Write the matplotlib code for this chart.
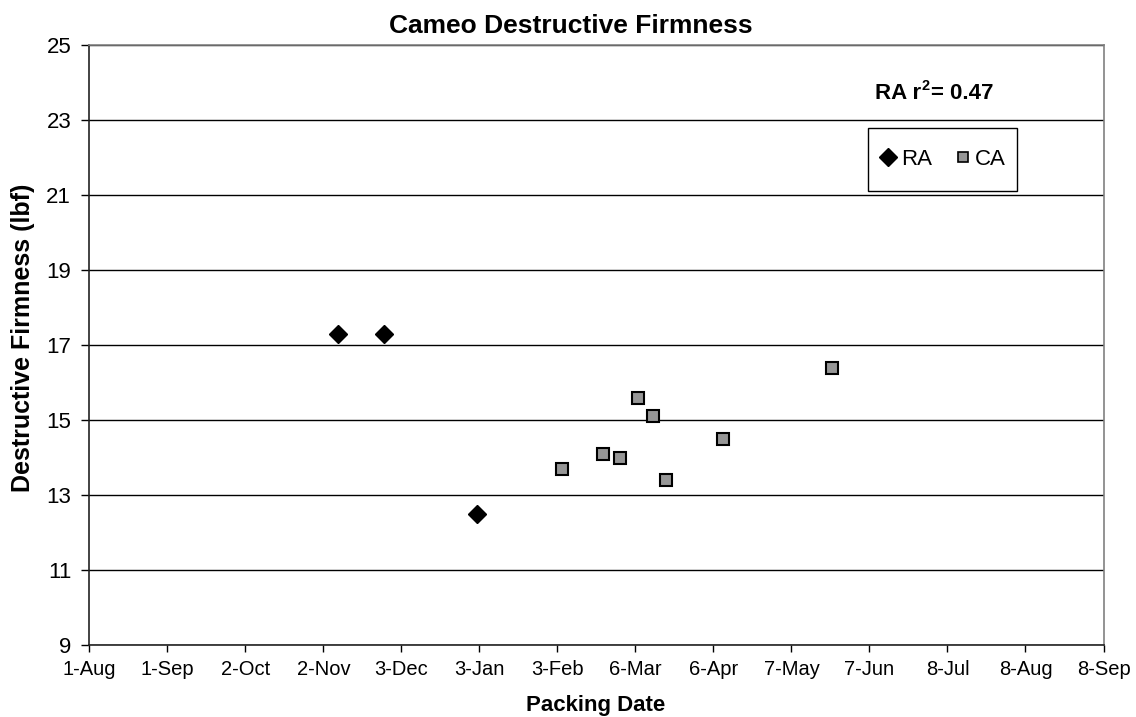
import datetime as dt
import matplotlib
matplotlib.use("Agg")
import matplotlib.pyplot as plt
import matplotlib.dates as mdates
from matplotlib.patches import Rectangle
from matplotlib.ticker import FixedLocator, FuncFormatter

plt.rcParams['font.family'] = ['Liberation Sans', 'DejaVu Sans']

# packing dates and firmness readings
ra_dates = ["2006-11-08", "2006-11-26", "2007-01-02"]
ra_firmness = [17.3, 17.3, 12.5]
ca_dates = ["2007-02-05", "2007-02-21", "2007-02-28", "2007-03-07",
            "2007-03-13", "2007-03-18", "2007-04-10", "2007-05-23"]
ca_firmness = [13.7, 14.1, 14.0, 15.6, 15.1, 13.4, 14.5, 16.4]
ra_r2 = 0.47

def to_num(days):
    return [mdates.date2num(dt.datetime.strptime(d, "%Y-%m-%d")) for d in days]

x_start = mdates.date2num(dt.datetime(2006, 8, 1))
x_ticks = [x_start + 31 * i for i in range(14)]

W, H = 1136, 717
fig = plt.figure(figsize=(W / 100, H / 100), dpi=100)
ax = fig.add_axes([0.0786, 0.1004, 0.8928, 0.8368])

ax.plot(to_num(ra_dates), ra_firmness, linestyle='none', marker='D',
        markersize=9, color='black', label='RA', zorder=3)
ax.plot(to_num(ca_dates), ca_firmness, linestyle='none', marker='s',
        markersize=8, markerfacecolor='#969696', markeredgecolor='black',
        markeredgewidth=1.5, label='CA', zorder=3)

ax.set_xlim(x_ticks[0], x_ticks[-1])
ax.set_ylim(9, 25)
ax.set_yticks(range(9, 26, 2))
ax.xaxis.set_major_locator(FixedLocator(x_ticks))

def fmt_date(x, pos):
    d = mdates.num2date(x)
    return f"{d.day}-{d.strftime('%b')}"

ax.xaxis.set_major_formatter(FuncFormatter(fmt_date))
ax.yaxis.grid(True, color='black', linewidth=1)
ax.set_axisbelow(True)

ax.tick_params(axis='y', direction='out', length=6, width=1, pad=7, labelsize=16)
ax.tick_params(axis='x', direction='out', length=5, width=1, pad=6, labelsize=14.5)
for side in ['left', 'bottom']:
    ax.spines[side].set_color('#222222')
for side in ['top', 'right']:
    ax.spines[side].set_color('#808080')
for sp in ax.spines.values():
    sp.set_linewidth(1.2)

fig.text(0.5026, 0.954, "Cameo Destructive Firmness", ha='center',
         va='baseline', fontsize=19, fontweight='bold')
fig.text(0.5246, 0.008, "Packing Date", ha='center', va='baseline',
         fontsize=16, fontweight='bold')
fig.text(0.0202, 1 - 338 / H, "Destructive Firmness (lbf)", ha='center',
         va='center', rotation=90, fontsize=18, fontweight='bold')

# r-squared note, with a small raised "2"
renderer = fig.canvas.get_renderer()
base_y = 1 - 99 / H
t1 = fig.text(875 / W, base_y, "RA r", ha='left', va='baseline',
              fontsize=16, fontweight='bold')
x1 = t1.get_window_extent(renderer).x1
t2 = fig.text(x1 / W + 0.0005, base_y + 9 / H, "2", ha='left', va='baseline',
              fontsize=10.5, fontweight='bold')
x2 = t2.get_window_extent(renderer).x1
fig.text(x2 / W + 0.001, base_y, f"= {ra_r2:.2f}", ha='left', va='baseline',
         fontsize=16, fontweight='bold')

# legend frame
fig.patches.append(Rectangle((868 / W, 1 - 191 / H), 149 / W, 63 / H,
                             transform=fig.transFigure, facecolor='white',
                             edgecolor='black', linewidth=1, zorder=5))
leg = fig.legend(loc='center', bbox_to_anchor=(943 / W, 1 - 159.5 / H),
                 ncol=2, frameon=False, fontsize=16, handlelength=0.75,
                 handletextpad=0.2, columnspacing=1.0)
leg.set_zorder(6)
hd = leg.legend_handles
hd[0].set_markersize(9.5)
hd[1].set_markersize(7.5)
hd[1].set_markeredgewidth(1.2)

fig.savefig("out.png", dpi=100)
